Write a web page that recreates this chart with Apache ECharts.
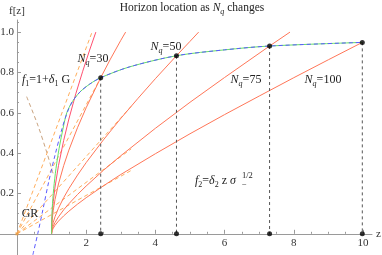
<!DOCTYPE html>
<html><head><meta charset="utf-8">
<script src="https://cdn.jsdelivr.net/npm/echarts@6/dist/echarts.min.js"></script>
<style>html,body{margin:0;padding:0;background:#fff}#c{width:382px;height:255px}</style>
</head><body><div id="c"></div>
<script>
// ---- tick values ----
const xMajor = [2, 4, 6, 8, 10];
const xMinor = [0.5, 1, 1.5, 2.5, 3, 3.5, 4.5, 5, 5.5, 6.5, 7, 7.5, 8.5, 9, 9.5];
const yMajor = [0.2, 0.4, 0.6, 0.8, 1.0];
const yMinor = [0.05, 0.1, 0.15, 0.25, 0.3, 0.35, 0.45, 0.5, 0.55, 0.65, 0.7, 0.75, 0.85, 0.9, 0.95, 1.05];

// ---- red curves f2 (start at z=1) ----
const r1X = [1, 1.005, 1.02, 1.05, 1.1, 1.2, 1.35, 1.5, 1.7, 1.9, 2.1, 2.28];
const r1Y = [0, 0.049, 0.099, 0.160, 0.232, 0.338, 0.463, 0.569, 0.694, 0.806, 0.911, 1.0];
const n30X = [1, 1.005, 1.02, 1.05, 1.1, 1.2, 1.35, 1.5, 1.75, 2.0, 2.42, 2.7, 3.0, 3.14];
const n30Y = [0, 0.036, 0.073, 0.117, 0.170, 0.247, 0.338, 0.415, 0.526, 0.625, 0.774, 0.866, 0.959, 1.0];
const n50X = [1, 1.005, 1.02, 1.05, 1.1, 1.2, 1.35, 1.5, 1.75, 2, 2.5, 3, 3.5, 4, 4.61, 5, 5.25];
const n50Y = [0, 0.017, 0.035, 0.057, 0.085, 0.127, 0.179, 0.224, 0.291, 0.353, 0.466, 0.572, 0.672, 0.769, 0.883, 0.954, 1.0];
const n75X = [1, 1.005, 1.02, 1.05, 1.1, 1.2, 1.35, 1.5, 1.75, 2, 2.5, 3, 4, 5, 6, 7.3, 7.89];
const n75Y = [0, 0.011, 0.023, 0.038, 0.056, 0.084, 0.119, 0.149, 0.195, 0.237, 0.315, 0.387, 0.523, 0.652, 0.775, 0.931, 1.0];
const n100X = [1, 1.005, 1.02, 1.05, 1.1, 1.2, 1.35, 1.5, 1.75, 2, 2.5, 3, 4, 5, 6, 7, 8, 9, 9.98];
const n100Y = [0, 0.008, 0.017, 0.028, 0.042, 0.063, 0.089, 0.112, 0.147, 0.179, 0.238, 0.294, 0.397, 0.496, 0.591, 0.683, 0.774, 0.863, 0.949];

// ---- orange dashed f1 lines from origin: end points ----
const orangeEndX = [2.17, 2.42, 3.3, 3.3, 3.3];
const orangeEndY = [1.0, 0.774, 0.632, 0.421, 0.314];

// ---- horizon curve ----
const blueX = [0.46, 0.6, 0.75, 0.92, 1.1, 1.3, 1.45, 1.6, 1.82, 2.1, 2.42, 3.26, 4.61, 6.0, 7.3, 9.98];
const blueY = [-0.104, 0.0, 0.12, 0.26, 0.39, 0.52, 0.6, 0.655, 0.703, 0.742, 0.774, 0.828, 0.883, 0.912, 0.931, 0.949];
const greenX = [1, 1.012, 1.049, 1.11, 1.195, 1.305, 1.44, 1.6, 1.82, 2.1, 2.42, 3.26, 4.61, 6.0, 7.3, 9.98];
const greenY = [0, 0.1, 0.2, 0.3, 0.4, 0.5, 0.6, 0.655, 0.703, 0.742, 0.774, 0.828, 0.883, 0.912, 0.931, 0.949];

// ---- pointer (f1 label) ----
const brownX = [0.28, 0.6, 0.85, 1.06];
const brownY = [0.68, 0.54, 0.41, 0.29];

// ---- horizon points ----
const hX = [2.42, 4.61, 7.30, 9.98];
const hY = [0.774, 0.883, 0.931, 0.949];

const F = 'Liberation Serif';
const zip = (xs, ys) => xs.map((x, i) => [x, ys[i]]);
const lineS = (data, color, type, width, z, smooth) => ({
  type: 'line', data, showSymbol: false, symbol: 'none', smooth: smooth || false,
  lineStyle: { color, width: width || 1, type: type || 'solid' }, itemStyle: { color },
  z: z || 2, silent: true, animation: false, clip: true
});

const series = [];
orangeEndX.forEach((ex, i) => series.push(lineS([[0, 0], [ex, orangeEndY[i]]], '#ffae5c', [4, 3], 1, 2)));
series.push(lineS(zip(brownX, brownY), '#c9a27e', [4, 3], 1, 2, 0.3));
series.push(lineS(zip(r1X, r1Y), '#ff5070', 'solid', 1, 3));
[[n30X, n30Y], [n50X, n50Y], [n75X, n75Y], [n100X, n100Y]].forEach(([xs, ys]) =>
  series.push(lineS(zip(xs, ys), '#ff7658', 'solid', 1, 3)));
series.push(lineS(zip(greenX, greenY), '#66e066', 'solid', 1, 4, 0.3));
series.push(lineS(zip(blueX, blueY), '#5a5aff', [4, 3], 1, 5, 0.3));
hX.forEach((x, i) => series.push(lineS([[x, hY[i]], [x, 0]], '#555', [3, 3], 1, 6)));
series.push({ type: 'scatter', data: zip(hX, hY).concat(hX.map(x => [x, 0])), symbolSize: 5,
  itemStyle: { color: '#000' }, z: 7, silent: true, animation: false });
series.push({ type: 'scatter', data: [[0, 0]], symbol: 'rect', symbolSize: 3,
  itemStyle: { color: '#e89a40' }, z: 7, silent: true, animation: false });

const tS = { fontFamily: F, fontSize: 11, color: '#333' };
const axisCol = '#9a9a9a';

function rich(fs) {
  const base = { fontFamily: F, fontSize: fs, fill: '#222', lineHeight: 15, verticalAlign: 'middle' };
  const sm = Math.round(fs * 0.7);
  return {
    n: base,
    i: Object.assign({}, base, { fontStyle: 'italic' }),
    s: { fontFamily: F, fontSize: sm, fontStyle: 'italic', fill: '#222', lineHeight: 8, verticalAlign: 'bottom' },
    u: { fontFamily: F, fontSize: sm, fill: '#222', lineHeight: 8, verticalAlign: 'bottom' },
    p: { fontFamily: F, fontSize: sm, fill: '#222', lineHeight: 8, verticalAlign: 'top' }
  };
}
const txt = (x, y, text, fs, align) => ({
  type: 'text', x, y, silent: true, z: 20,
  style: { text, rich: rich(fs || 12), align: align || 'center', verticalAlign: 'middle', fontFamily: F, fontSize: fs || 12, fill: '#222' }
});

const option = {
  animation: false,
  backgroundColor: '#fff',
  grid: { left: 0, right: 10, top: 20, bottom: 0,
          outerBounds: { left: -300, right: -300, top: -300, bottom: -300 } },
  xAxis: [{
    type: 'value', min: -0.49, max: 10.26, position: 'bottom',
    axisLine: { onZero: true, lineStyle: { color: axisCol, width: 1 } },
    axisTick: { customValues: xMajor, inside: true, length: 4, lineStyle: { color: axisCol } },
    axisLabel: { show: false },
    splitLine: { show: false },
    name: 'z', nameLocation: 'end', nameGap: 4, nameTextStyle: tS
  }, {
    type: 'value', min: -0.49, max: 10.26, position: 'bottom', gridIndex: 0,
    axisLine: { show: false, onZero: true },
    axisTick: { customValues: xMinor, inside: true, length: 2, lineStyle: { color: axisCol } },
    axisLabel: { show: false }, splitLine: { show: false }
  }],
  yAxis: [{
    type: 'value', min: -0.105, max: 1.06, position: 'left',
    axisLine: { onZero: true, lineStyle: { color: axisCol, width: 1 } },
    axisTick: { customValues: yMajor, inside: true, length: 4, lineStyle: { color: axisCol } },
    axisLabel: { show: false },
    splitLine: { show: false },
    name: 'f[z]', nameLocation: 'end', nameGap: 3, nameTextStyle: tS
  }, {
    type: 'value', min: -0.105, max: 1.06, position: 'left', gridIndex: 0,
    axisLine: { show: false, onZero: true },
    axisTick: { customValues: yMinor, inside: true, length: 2, lineStyle: { color: axisCol } },
    axisLabel: { show: false }, splitLine: { show: false }
  }],
  series,
  graphic: [
    txt(192, 8, '{n|Horizon location as }{i|N}{s|q}{n| changes}', 11.5),
    txt(93, 59, '{i|N}{s|q}{n|=30}'),
    txt(166, 47, '{i|N}{s|q}{n|=50}'),
    txt(246, 80, '{i|N}{s|q}{n|=75}'),
    txt(323, 80, '{i|N}{s|q}{n|=100}'),
    txt(22, 80, '{i|f}{u|1}{n|=1+}{i|δ}{u|1}{n| G}', 12, 'left'),
    txt(30, 214, '{n|GR}'),
    txt(195, 181, '{i|f}{u|2}{n|=}{i|δ}{u|2}{n| z }{i|σ}', 12, 'left'),
    txt(242, 176, '{n|1/2}', 8.5, 'left'),
    txt(242, 185, '{n|−}', 8.5, 'left')
  ]
};
const chart = echarts.init(document.getElementById('c'));
chart.setOption(option);

// tick labels placed through the axes' own scales
const finder = { xAxisIndex: 0, yAxisIndex: 0 };
const tickLabels = [];
xMajor.forEach(v => {
  const p = chart.convertToPixel(finder, [v, 0]);
  tickLabels.push({ type: 'text', x: p[0], y: p[1] + 4, silent: true, z: 20,
    style: { text: String(v), align: 'center', verticalAlign: 'top', fontFamily: F, fontSize: 11, fill: '#333' } });
});
yMajor.forEach(v => {
  const p = chart.convertToPixel(finder, [0, v]);
  tickLabels.push({ type: 'text', x: p[0] - 3, y: p[1], silent: true, z: 20,
    style: { text: v.toFixed(1), align: 'right', verticalAlign: 'middle', fontFamily: F, fontSize: 11, fill: '#333' } });
});
chart.setOption({ graphic: option.graphic.concat(tickLabels) });
</script>
</body></html>
